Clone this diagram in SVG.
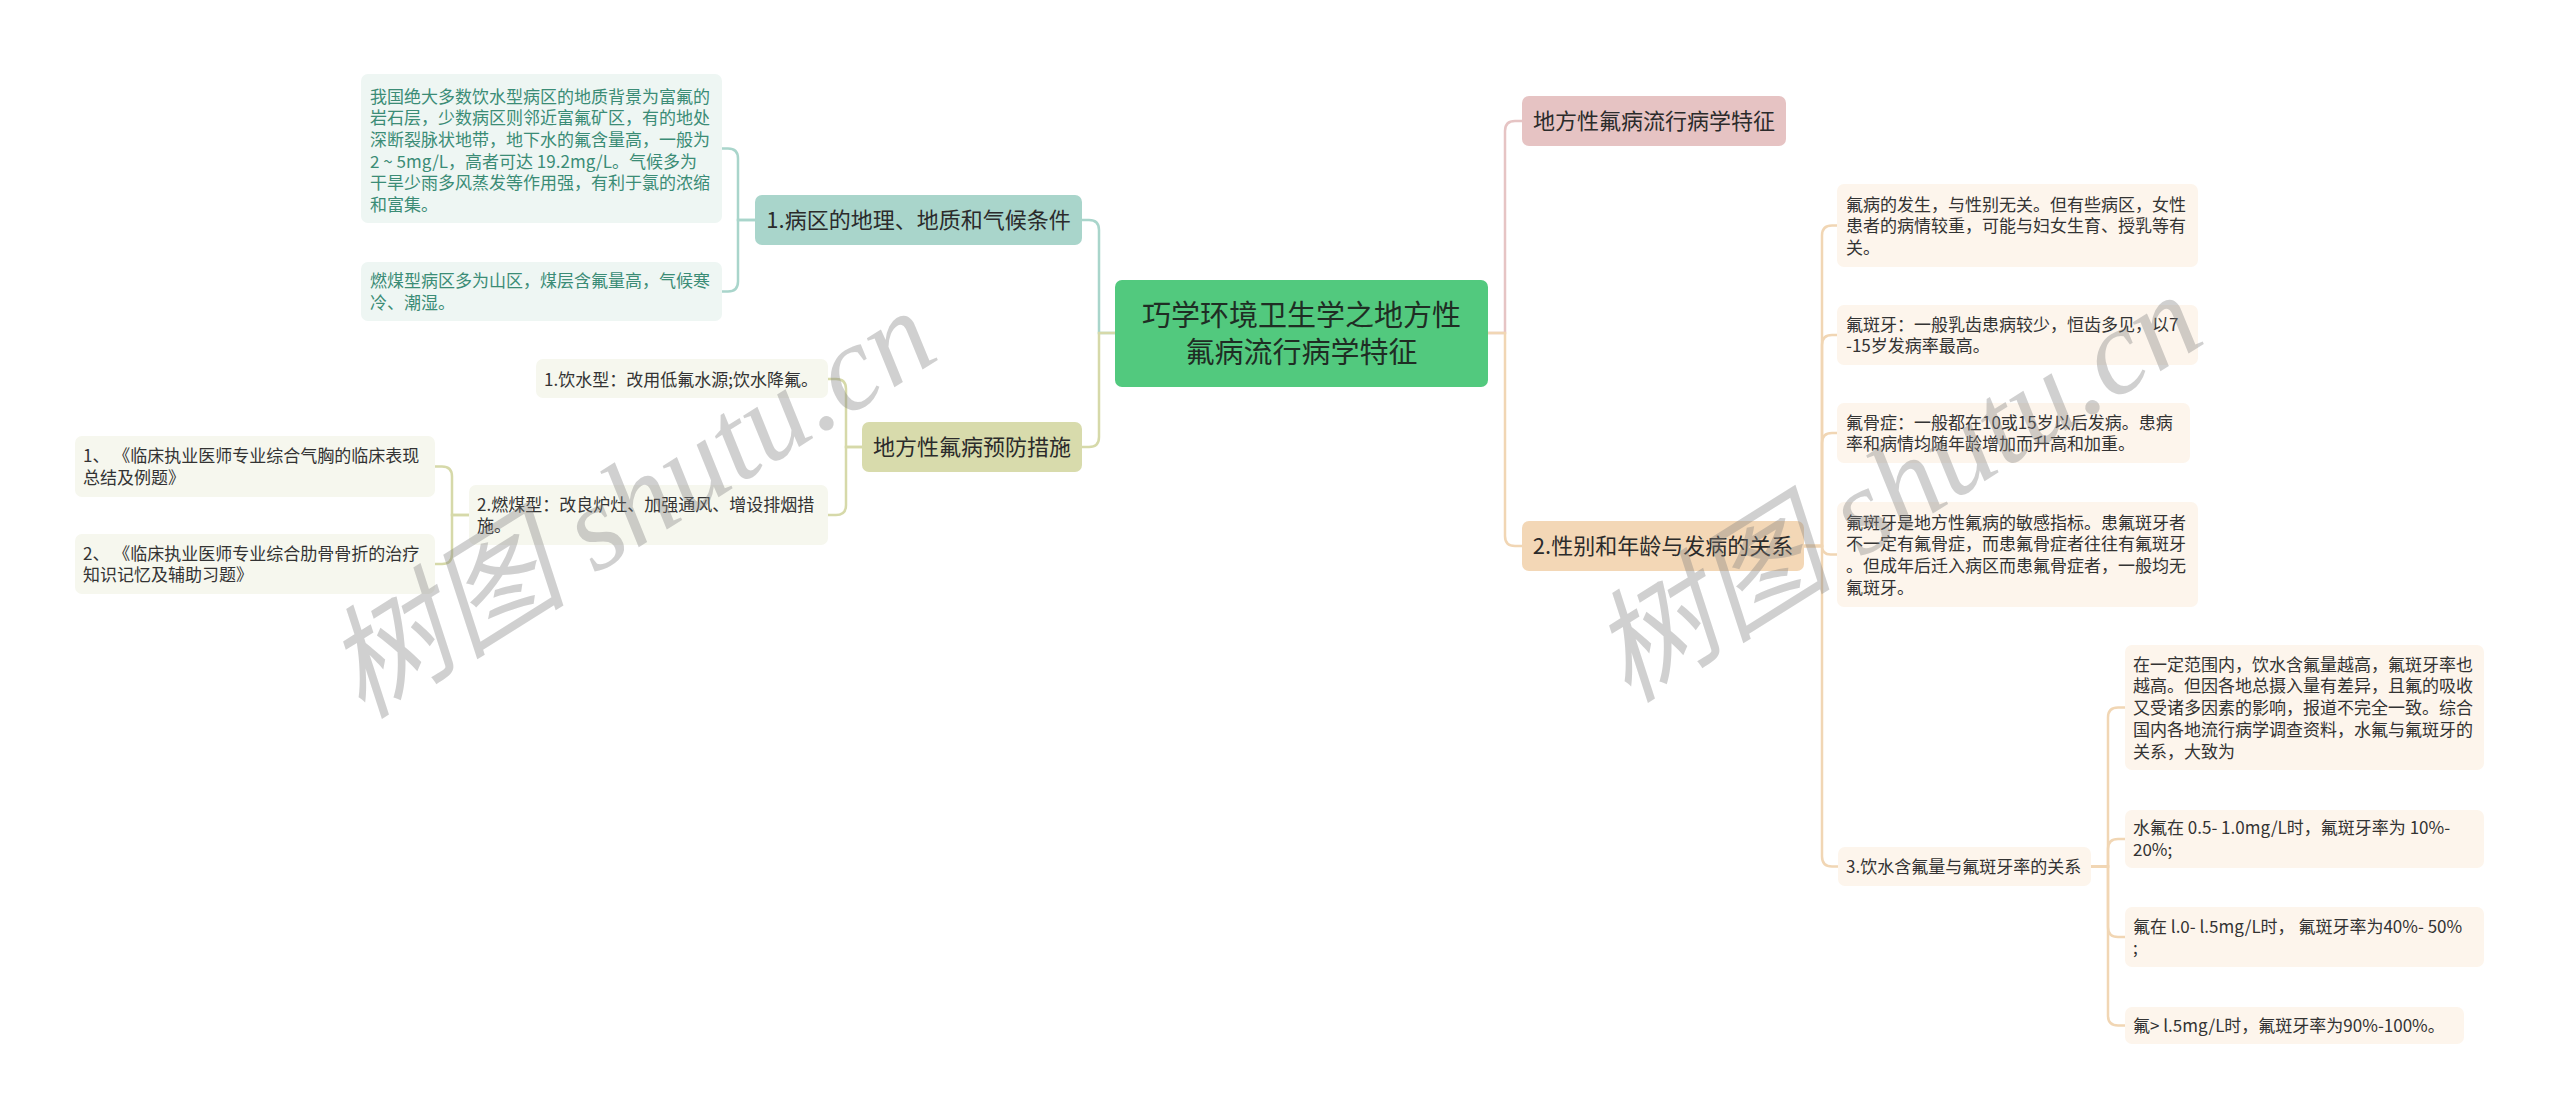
<svg xmlns="http://www.w3.org/2000/svg" width="2560" height="1119" viewBox="0 0 2560 1119">
<style>
text{font-family:"Noto Sans CJK SC","Noto Sans",sans-serif;}
.leaf{font-size:17px;fill:#333333;}
.teal{font-size:17px;fill:#3b8c76;}
.l1{font-size:22px;fill:#2b2b2b;text-anchor:middle;}
.root{font-size:29px;fill:#1f2d24;text-anchor:middle;}
.c-teal{fill:none;stroke:#a9d5cb;stroke-width:2.5;}
.c-olive{fill:none;stroke:#d6d9a9;stroke-width:2.5;}
.c-pink{fill:none;stroke:#e6c4c4;stroke-width:2.5;}
.c-peach{fill:none;stroke:#f1d6b4;stroke-width:2.5;}
.b-teal{fill:#eef6f3;}
.b-olive{fill:#f6f7ee;}
.b-peach{fill:#fdf5ec;}
.wm{font-family:"Liberation Serif","Noto Sans CJK SC",serif;font-style:italic;font-size:122px;fill:#808080;opacity:0.36;}
</style>
<rect width="2560" height="1119" fill="#ffffff"/>
<g id="connectors">
<path class="c-teal" d="M1115,333 H1099 V230 Q1099,220 1089,220 H1082"/>
<path class="c-olive" d="M1115,333 H1099 V437 Q1099,447 1089,447 H1082"/>
<path class="c-teal" d="M755,220 H738 V158.5 Q738,148.5 728,148.5 H722"/>
<path class="c-teal" d="M755,220 H738 V281.5 Q738,291.5 728,291.5 H722"/>
<path class="c-olive" d="M862,447 H846 V389 Q846,379 836,379 H828"/>
<path class="c-olive" d="M862,447 H846 V505 Q846,515 836,515 H828"/>
<path class="c-olive" d="M469,515 H452 V476.5 Q452,466.5 442,466.5 H435"/>
<path class="c-olive" d="M469,515 H452 V554 Q452,564 442,564 H435"/>
<path class="c-pink" d="M1488,333 H1505 V131 Q1505,121 1515,121 H1522"/>
<path class="c-peach" d="M1488,333 H1505 V536 Q1505,546 1515,546 H1522"/>
<path class="c-peach" d="M1804,546 H1822 V235.5 Q1822,225.5 1832,225.5 H1837"/>
<path class="c-peach" d="M1804,546 H1822 V345 Q1822,335 1832,335 H1837"/>
<path class="c-peach" d="M1804,546 H1822 V443 Q1822,433 1832,433 H1837"/>
<path class="c-peach" d="M1804,546 H1822 Q1822,554.5 1830.5,554.5 H1837"/>
<path class="c-peach" d="M1804,546 H1822 V856.5 Q1822,866.5 1832,866.5 H1838"/>
<path class="c-peach" d="M2091,866.5 H2108 V717.5 Q2108,707.5 2118,707.5 H2125"/>
<path class="c-peach" d="M2091,866.5 H2108 V849 Q2108,839 2118,839 H2125"/>
<path class="c-peach" d="M2091,866.5 H2108 V927 Q2108,937 2118,937 H2125"/>
<path class="c-peach" d="M2091,866.5 H2108 V1015.5 Q2108,1025.5 2118,1025.5 H2125"/>
</g>
<g id="root">
<rect x="1115" y="280" width="373" height="107" rx="7" fill="#52c97e"/>
<text class="root" x="1301.5" y="326">巧学环境卫生学之地方性</text>
<text class="root" x="1301.5" y="363">氟病流行病学特征</text>
</g>
<g id="n-geo">
<rect x="755" y="195" width="327" height="50" rx="7" fill="#a9d5cb"/>
<text class="l1" x="918.5" y="228">1.病区的地理、地质和气候条件</text>
</g>
<g id="n-geo-a">
<rect class="b-teal" x="361" y="74" width="361" height="149" rx="7"/>
<text class="teal" x="370" y="102.5">我国绝大多数饮水型病区的地质背景为富氟的</text>
<text class="teal" x="370" y="124">岩石层，少数病区则邻近富氟矿区，有的地处</text>
<text class="teal" x="370" y="146">深断裂脉状地带，地下水的氟含量高，一般为</text>
<text class="teal" x="370" y="167.5">2 ~ 5mg/L，高者可达 19.2mg/L。气候多为</text>
<text class="teal" x="370" y="189">干旱少雨多风蒸发等作用强，有利于氯的浓缩</text>
<text class="teal" x="370" y="211">和富集。</text>
</g>
<g id="n-geo-b">
<rect class="b-teal" x="361" y="262" width="361" height="59" rx="7"/>
<text class="teal" x="370" y="287">燃煤型病区多为山区，煤层含氟量高，气候寒</text>
<text class="teal" x="370" y="309">冷、潮湿。</text>
</g>
<g id="n-prev">
<rect x="862" y="422" width="220" height="50" rx="7" fill="#d8dbac"/>
<text class="l1" x="972" y="455">地方性氟病预防措施</text>
</g>
<g id="n-prev-water">
<rect class="b-olive" x="536" y="359" width="292" height="39" rx="7"/>
<text class="leaf" x="544" y="385.5">1.饮水型：改用低氟水源;饮水降氟。</text>
</g>
<g id="n-prev-coal">
<rect class="b-olive" x="469" y="485" width="359" height="60" rx="7"/>
<text class="leaf" x="477" y="510.5">2.燃煤型：改良炉灶、加强通风、增设排烟措</text>
<text class="leaf" x="477" y="532">施。</text>
</g>
<g id="n-ref1">
<rect class="b-olive" x="75" y="436" width="360" height="61" rx="7"/>
<text class="leaf" x="83" y="462">1、 《临床执业医师专业综合气胸的临床表现</text>
<text class="leaf" x="83" y="484">总结及例题》</text>
</g>
<g id="n-ref2">
<rect class="b-olive" x="75" y="534" width="360" height="60" rx="7"/>
<text class="leaf" x="83" y="559.5">2、 《临床执业医师专业综合肋骨骨折的治疗</text>
<text class="leaf" x="83" y="581">知识记忆及辅助习题》</text>
</g>
<g id="n-epi">
<rect x="1522" y="96" width="264" height="50" rx="7" fill="#e6c3c3"/>
<text class="l1" x="1654" y="129">地方性氟病流行病学特征</text>
</g>
<g id="n-sex">
<rect x="1522" y="521" width="282" height="50" rx="7" fill="#f3d7b6"/>
<text class="l1" x="1663" y="554">2.性别和年龄与发病的关系</text>
</g>
<g id="n-sex-a">
<rect class="b-peach" x="1837" y="184" width="361" height="83" rx="7"/>
<text class="leaf" x="1846" y="210.5">氟病的发生，与性别无关。但有些病区，女性</text>
<text class="leaf" x="1846" y="232">患者的病情较重，可能与妇女生育、授乳等有</text>
<text class="leaf" x="1846" y="254">关。</text>
</g>
<g id="n-sex-b">
<rect class="b-peach" x="1837" y="305" width="361" height="60" rx="7"/>
<text class="leaf" x="1846" y="330.5">氟斑牙：一般乳齿患病较少，恒齿多见，以7</text>
<text class="leaf" x="1846" y="352">-15岁发病率最高。</text>
</g>
<g id="n-sex-c">
<rect class="b-peach" x="1837" y="403" width="353" height="60" rx="7"/>
<text class="leaf" x="1846" y="428.5">氟骨症：一般都在10或15岁以后发病。患病</text>
<text class="leaf" x="1846" y="450">率和病情均随年龄增加而升高和加重。</text>
</g>
<g id="n-sex-d">
<rect class="b-peach" x="1837" y="502" width="361" height="105" rx="7"/>
<text class="leaf" x="1846" y="528.5">氟斑牙是地方性氟病的敏感指标。患氟斑牙者</text>
<text class="leaf" x="1846" y="550">不一定有氟骨症，而患氟骨症者往往有氟斑牙</text>
<text class="leaf" x="1846" y="572">。但成年后迁入病区而患氟骨症者，一般均无</text>
<text class="leaf" x="1846" y="593.5">氟斑牙。</text>
</g>
<g id="n-water">
<rect class="b-peach" x="1838" y="847" width="253" height="39" rx="7"/>
<text class="leaf" x="1846" y="873">3.饮水含氟量与氟斑牙率的关系</text>
</g>
<g id="n-water-1">
<rect class="b-peach" x="2125" y="645" width="359" height="125" rx="7"/>
<text class="leaf" x="2133" y="670.5">在一定范围内，饮水含氟量越高，氟斑牙率也</text>
<text class="leaf" x="2133" y="692">越高。但因各地总摄入量有差异，且氟的吸收</text>
<text class="leaf" x="2133" y="714">又受诸多因素的影响，报道不完全一致。综合</text>
<text class="leaf" x="2133" y="735.5">国内各地流行病学调查资料，水氟与氟斑牙的</text>
<text class="leaf" x="2133" y="757.5">关系，大致为</text>
</g>
<g id="n-water-2">
<rect class="b-peach" x="2125" y="810" width="359" height="58" rx="7"/>
<text class="leaf" x="2133" y="834">水氟在 0.5- 1.0mg/L时，氟斑牙率为 10%-</text>
<text class="leaf" x="2133" y="856">20%;</text>
</g>
<g id="n-water-3">
<rect class="b-peach" x="2125" y="907" width="359" height="60" rx="7"/>
<text class="leaf" x="2133" y="932.5">氟在 l.0- l.5mg/L时， 氟斑牙率为40%- 50%</text>
<text class="leaf" x="2133" y="954">;</text>
</g>
<g id="n-water-4">
<rect class="b-peach" x="2125" y="1007" width="339" height="37" rx="7"/>
<text class="leaf" x="2133" y="1032">氟&gt; l.5mg/L时，氟斑牙率为90%-100%。</text>
</g>
<g id="watermark">
<text class="wm" transform="translate(362,720) rotate(-32)">树图 shutu.cn</text>
<text class="wm" transform="translate(1628,704) rotate(-32)">树图 shutu.cn</text>
</g>
</svg>
